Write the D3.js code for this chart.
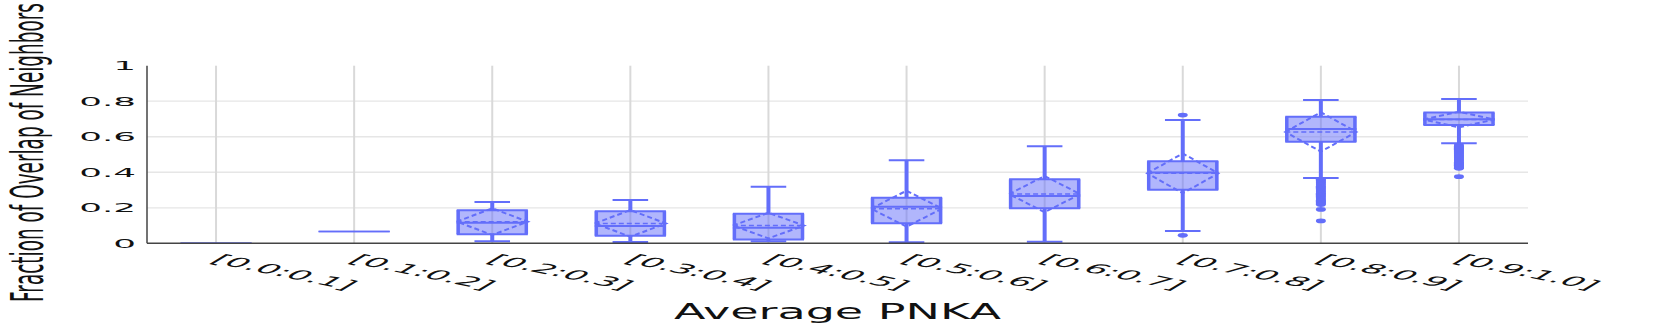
<!DOCTYPE html>
<html>
<head>
<meta charset="utf-8">
<script src="https://cdn.jsdelivr.net/npm/d3@7"></script>
<style>
  html, body { margin: 0; padding: 0; background: #fff; }
  svg { display: block; }
  text { font-family: "DejaVu Sans", sans-serif; }
</style>
</head>
<body>
<svg id="chart" width="1661" height="327"></svg>
<script>
// ---------------- data ----------------
const categories = ["[0.0:0.1]", "[0.1:0.2]", "[0.2:0.3]", "[0.3:0.4]", "[0.4:0.5]",
                    "[0.5:0.6]", "[0.6:0.7]", "[0.7:0.8]", "[0.8:0.9]", "[0.9:1.0]"];
const lowerFence = [0.000, 0.067, 0.011, 0.007, 0.011, 0.006, 0.009, 0.069, 0.368, 0.563];
const q1Values   = [0.000, 0.067, 0.051, 0.043, 0.022, 0.113, 0.197, 0.302, 0.572, 0.666];
const medians    = [0.000, 0.067, 0.116, 0.097, 0.088, 0.206, 0.266, 0.398, 0.644, 0.698];
const q3Values   = [0.000, 0.067, 0.186, 0.180, 0.167, 0.257, 0.360, 0.462, 0.713, 0.736];
const upperFence = [0.000, 0.067, 0.232, 0.244, 0.319, 0.467, 0.546, 0.694, 0.807, 0.812];
const means      = [0.000, 0.067, 0.122, 0.112, 0.100, 0.195, 0.277, 0.394, 0.627, 0.697];
const stdDevs    = [0.000, 0.000, 0.075, 0.075, 0.072, 0.101, 0.102, 0.112, 0.111, 0.044];
const outliers = [
  [], [], [], [], [], [], [],
  [0.722, 0.045],
  [0.360, 0.354, 0.347, 0.341, 0.334, 0.328, 0.321, 0.315, 0.308, 0.302, 0.295, 0.289,
   0.282, 0.276, 0.269, 0.263, 0.256, 0.250, 0.243, 0.237, 0.230, 0.224, 0.218, 0.191, 0.126],
  [0.553, 0.547, 0.541, 0.535, 0.529, 0.523, 0.517, 0.511, 0.505, 0.499, 0.493, 0.487,
   0.481, 0.475, 0.469, 0.463, 0.457, 0.451, 0.445, 0.439, 0.433, 0.427, 0.422, 0.375]
];
const yTicks = [0, 0.2, 0.4, 0.6, 0.8, 1];
const yTickLabels = ["0", "0.2", "0.4", "0.6", "0.8", "1"];
const xTitle = "Average PNKA";
const yTitle = "Fraction of Overlap of Neighbors";

// ---------------- layout ----------------
const svg = d3.select("#chart");
const L = 147, R = 1528, T = 65.7, B = 243.3;
const LINE = "#636efa", FILL = "rgba(99,110,250,0.5)";

const x = d3.scaleBand().domain(categories).range([L, R]).padding(0);
const y = d3.scaleLinear().domain([0, 1]).range([B, T]);
const boxW = x.bandwidth() * 0.515;
const capW = boxW * 0.5;

// horizontal gridlines
svg.append("g").selectAll("line")
  .data(yTicks.filter(d => d > 0 && d < 1))
  .join("line")
  .attr("x1", L).attr("x2", R)
  .attr("y1", d => y(d)).attr("y2", d => y(d))
  .attr("stroke", "#e6e6e6").attr("stroke-width", 1.3);

// vertical gridlines
svg.append("g").selectAll("line")
  .data(categories)
  .join("line")
  .attr("x1", d => x(d) + x.bandwidth() / 2).attr("x2", d => x(d) + x.bandwidth() / 2)
  .attr("y1", T).attr("y2", B)
  .attr("stroke", "#d9d9d9").attr("stroke-width", 2);

// boxes
const boxes = categories.map((c, i) => ({
  c, lf: lowerFence[i], q1: q1Values[i], med: medians[i], q3: q3Values[i],
  uf: upperFence[i], mean: means[i], sd: stdDevs[i], out: outliers[i]
}));

const g = svg.append("g").selectAll("g").data(boxes).join("g")
  .attr("transform", d => `translate(${x(d.c) + x.bandwidth() / 2},0)`);

// whisker stems
g.filter(d => d.uf > d.q3).append("line")
  .attr("x1", 0).attr("x2", 0).attr("y1", d => y(d.q3)).attr("y2", d => y(d.uf))
  .attr("stroke", LINE).attr("stroke-width", 4);
g.filter(d => d.lf < d.q1).append("line")
  .attr("x1", 0).attr("x2", 0).attr("y1", d => y(d.q1)).attr("y2", d => y(d.lf))
  .attr("stroke", LINE).attr("stroke-width", 4);
// caps
g.filter(d => d.uf > d.q3).append("line")
  .attr("x1", -capW / 2).attr("x2", capW / 2).attr("y1", d => y(d.uf)).attr("y2", d => y(d.uf))
  .attr("stroke", LINE).attr("stroke-width", 2);
g.filter(d => d.lf < d.q1).append("line")
  .attr("x1", -capW / 2).attr("x2", capW / 2).attr("y1", d => y(d.lf)).attr("y2", d => y(d.lf))
  .attr("stroke", LINE).attr("stroke-width", 2);

// box fill
g.append("rect")
  .attr("x", -boxW / 2).attr("width", boxW)
  .attr("y", d => y(d.q3)).attr("height", d => y(d.q1) - y(d.q3))
  .attr("fill", FILL);
// box top/bottom edges
g.append("line").attr("x1", -boxW / 2).attr("x2", boxW / 2)
  .attr("y1", d => y(d.q3)).attr("y2", d => y(d.q3))
  .attr("stroke", LINE).attr("stroke-width", d => d.q3 > d.q1 ? 2 : 1.5);
g.append("line").attr("x1", -boxW / 2).attr("x2", boxW / 2)
  .attr("y1", d => y(d.q1)).attr("y2", d => y(d.q1))
  .attr("stroke", LINE).attr("stroke-width", d => d.q3 > d.q1 ? 2 : 1.5);
// box sides
g.filter(d => d.q3 > d.q1).selectAll("line.side").data(d => [[-1, d], [1, d]]).join("line")
  .attr("class", "side")
  .attr("x1", p => p[0] * (boxW / 2 - 1.5)).attr("x2", p => p[0] * (boxW / 2 - 1.5))
  .attr("y1", p => y(p[1].q3)).attr("y2", p => y(p[1].q1))
  .attr("stroke", LINE).attr("stroke-width", 3.5);
// median
g.filter(d => d.q3 > d.q1).append("line")
  .attr("x1", -boxW / 2).attr("x2", boxW / 2)
  .attr("y1", d => y(d.med)).attr("y2", d => y(d.med))
  .attr("stroke", LINE).attr("stroke-width", 2);
// mean line (dashed)
g.filter(d => d.sd > 0).append("line")
  .attr("x1", -boxW / 2).attr("x2", boxW / 2)
  .attr("y1", d => y(d.mean)).attr("y2", d => y(d.mean))
  .attr("stroke", LINE).attr("stroke-width", 1.5).attr("stroke-dasharray", "5,3");
// sd diamond (dashed)
g.filter(d => d.sd > 0).append("path")
  .attr("d", d => `M${-boxW / 2},${y(d.mean)} L0,${y(d.mean + d.sd)} L${boxW / 2},${y(d.mean)} L0,${y(d.mean - d.sd)} Z`)
  .attr("fill", "none").attr("stroke", LINE).attr("stroke-width", 2).attr("stroke-dasharray", "5,3");

// outliers
g.selectAll("ellipse").data(d => d.out).join("ellipse")
  .attr("cx", 0).attr("cy", v => y(v)).attr("rx", 5).attr("ry", 2.4)
  .attr("fill", LINE);

// axes lines
svg.append("line").attr("x1", L).attr("x2", R).attr("y1", B).attr("y2", B)
  .attr("stroke", "#444").attr("stroke-width", 1.5);
svg.append("line").attr("x1", L).attr("x2", L).attr("y1", T).attr("y2", B)
  .attr("stroke", "#444").attr("stroke-width", 1.5);

// y tick labels (horizontally stretched)
const ySX = 2.75;
svg.append("g").selectAll("text").data(yTicks).join("text")
  .attr("transform", d => `translate(136,${y(d)}) scale(${ySX},1)`)
  .attr("text-anchor", "end").attr("dy", "0.36em")
  .attr("font-size", 13).attr("fill", "#111")
  .text((d, i) => yTickLabels[i]);

// x tick labels (rotated 30°, stretched)
const xSX = 2.85;
svg.append("g").selectAll("text").data(categories).join("text")
  .attr("transform", d => `translate(${x(d) + x.bandwidth() / 2 - 7},262) scale(${xSX},1) rotate(30)`)
  .attr("text-anchor", "start")
  .attr("font-size", 13).attr("fill", "#111")
  .text(d => d);

// x title
const xt = svg.append("text").attr("font-size", 22).attr("fill", "#111")
  .attr("text-anchor", "middle").text(xTitle);
const xtLen = xt.node().getComputedTextLength();
xt.attr("transform", `translate(${(L + R) / 2},319) scale(${327 / xtLen},1)`);

// y title
const yt = svg.append("text").attr("font-size", 17).attr("fill", "#111")
  .attr("text-anchor", "middle").text(yTitle);
const ytLen = yt.node().getComputedTextLength();
const ytSize = 17 * 299 / ytLen;
yt.attr("font-size", ytSize);
yt.attr("transform", `translate(43,152.5) scale(${33 / (0.729 * ytSize)},1) rotate(-90)`);
</script>
</body>
</html>
